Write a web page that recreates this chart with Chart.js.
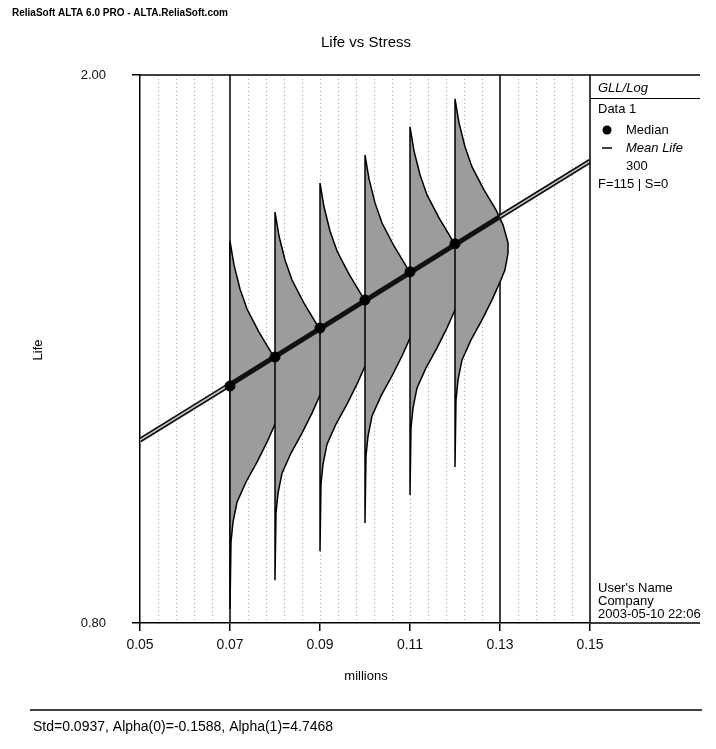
<!DOCTYPE html>
<html>
<head>
<meta charset="utf-8">
<title>Life vs Stress</title>
<script src="https://cdn.jsdelivr.net/npm/chart.js@4.4.1/dist/chart.umd.min.js"></script>
<style>
  html, body { margin: 0; padding: 0; background: #fff; }
  #wrap { position: relative; width: 716px; height: 749px; }
</style>
</head>
<body>
<div id="wrap"><canvas id="lifeChart" width="716" height="749"></canvas></div>
<script>
// stress levels (millions) and median life at each one
const stressLevels = [0.07, 0.08, 0.09, 0.10, 0.11, 0.12];
const medianLife = [1.189, 1.248, 1.310, 1.373, 1.439, 1.508];

// mean life line (read at both ends and where it crosses 0.07 / 0.13)
const meanStress = [0.05, 0.07, 0.13, 0.15];
const meanLife = [1.086, 1.192, 1.578, 1.732];

// pdf outline shared by every level: log10 offset from the median, and width in stress units
const pdfLogOffset = [0.1053, 0.0879, 0.0705, 0.0559, 0.0392, 0.0247, 0.0138, 0.0007, -0.0065,
    -0.0189, -0.0261, -0.0407, -0.0552, -0.0697, -0.0843, -0.0988, -0.1133, -0.162];
const pdfWidth = [0, 0.00089, 0.00222, 0.00378, 0.00644, 0.00911, 0.01067, 0.01178, 0.01178,
    0.01111, 0.01022, 0.00822, 0.0060, 0.00356, 0.00156, 0.00067, 0.00022, 0];

const xTicks = [0.05, 0.07, 0.09, 0.11, 0.13, 0.15];
const yTicks = [0.80, 2.00];
const solidGrid = [0.07, 0.13];
const gridStep = 0.004;

const FONT = "'Liberation Sans', Arial, sans-serif";

// one closed outline per stress level: right edge top->bottom, then back up the baseline
function pdfShape(stress, median) {
    const pts = pdfLogOffset.map((off, i) => ({ x: stress + pdfWidth[i], y: median * Math.pow(10, off) }));
    const last = pdfLogOffset.length - 1;
    pts.push({ x: stress, y: median * Math.pow(10, pdfLogOffset[last]) });
    pts.push({ x: stress, y: median * Math.pow(10, pdfLogOffset[0]) });
    return pts;
}

const datasets = [];

stressLevels.forEach((s, i) => {
    datasets.push({
        data: pdfShape(s, medianLife[i]),
        showLine: true,
        fill: 'shape',
        backgroundColor: '#9c9c9c',
        borderColor: '#000',
        borderWidth: 1.5,
        pointRadius: 0,
        tension: 0,
        order: 20 - i
    });
});

datasets.push({
    data: meanStress.map((s, i) => ({ x: s, y: meanLife[i] })),
    showLine: true,
    borderColor: '#111',
    borderWidth: 5,
    pointRadius: 0,
    order: 3
});

// light centre of the mean line outside the pdf region
[[0, 2], [2, 4]].forEach(([a, b]) => {
    datasets.push({
        data: meanStress.slice(a, b).map((s, i) => ({ x: s, y: meanLife[a + i] })),
        showLine: true,
        borderColor: '#c8c8c8',
        borderWidth: 1.5,
        pointRadius: 0,
        order: 2
    });
});

datasets.push({
    data: stressLevels.map((s, i) => ({ x: s, y: medianLife[i] })),
    showLine: false,
    pointRadius: 5,
    pointBackgroundColor: '#000',
    pointBorderColor: '#000',
    order: 0
});

const decor = {
    id: 'decor',
    beforeDatasetsDraw(chart) {
        const { ctx, chartArea: a, scales: { x } } = chart;
        ctx.save();
        ctx.strokeStyle = 'rgba(0,0,0,0.35)';
        ctx.lineWidth = 1;
        ctx.setLineDash([1, 3]);
        for (let i = 1; i * gridStep < 0.1 - 1e-9; i++) {
            const v = 0.05 + i * gridStep;
            if (solidGrid.some(g => Math.abs(g - v) < 1e-9)) continue;
            const px = Math.round(x.getPixelForValue(v)) + 0.5;
            ctx.beginPath();
            ctx.moveTo(px, a.top);
            ctx.lineTo(px, a.bottom);
            ctx.stroke();
        }
        ctx.setLineDash([]);
        ctx.strokeStyle = '#000';
        ctx.lineWidth = 1.5;
        solidGrid.forEach(v => {
            const px = x.getPixelForValue(v);
            ctx.beginPath();
            ctx.moveTo(px, a.top);
            ctx.lineTo(px, a.bottom);
            ctx.stroke();
        });
        ctx.restore();
    },
    afterDraw(chart) {
        const { ctx, chartArea: a } = chart;
        const w = chart.width;
        ctx.save();
        ctx.fillStyle = '#000';
        ctx.strokeStyle = '#000';

        ctx.font = 'bold 10px ' + FONT;
        ctx.textBaseline = 'middle';
        ctx.textAlign = 'left';
        ctx.fillText('ReliaSoft ALTA 6.0 PRO - ALTA.ReliaSoft.com', 12, 13);

        ctx.font = '15px ' + FONT;
        ctx.textAlign = 'center';
        ctx.fillText('Life vs Stress', 366, 43);

        ctx.font = '13px ' + FONT;
        ctx.fillText('millions', 366, 676);
        ctx.save();
        ctx.translate(38, 350);
        ctx.rotate(-Math.PI / 2);
        ctx.fillText('Life', 0, 0);
        ctx.restore();

        // frame: top line, legend box edges
        ctx.lineWidth = 1.5;
        ctx.beginPath();
        ctx.moveTo(a.left, a.top);
        ctx.lineTo(700, a.top);
        ctx.moveTo(a.right, a.bottom);
        ctx.lineTo(700, a.bottom);
        ctx.moveTo(a.right, a.top);
        ctx.lineTo(a.right, a.bottom);
        ctx.stroke();
        ctx.lineWidth = 1;
        ctx.beginPath();
        ctx.moveTo(a.right, 98.5);
        ctx.lineTo(700, 98.5);
        ctx.stroke();

        // legend
        const lx = a.right + 8;
        ctx.textAlign = 'left';
        ctx.font = 'italic 13px ' + FONT;
        ctx.fillText('GLL/Log', lx, 88);
        ctx.font = '13px ' + FONT;
        ctx.fillText('Data 1', lx, 109);
        ctx.beginPath();
        ctx.arc(lx + 9, 130, 4.5, 0, Math.PI * 2);
        ctx.fill();
        ctx.fillText('Median', lx + 28, 130);
        ctx.lineWidth = 1.5;
        ctx.beginPath();
        ctx.moveTo(lx + 4, 148);
        ctx.lineTo(lx + 14, 148);
        ctx.stroke();
        ctx.font = 'italic 13px ' + FONT;
        ctx.fillText('Mean Life', lx + 28, 148);
        ctx.font = '13px ' + FONT;
        ctx.fillText('300', lx + 28, 166);
        ctx.fillText('F=115 | S=0', lx, 184);

        ctx.fillText("User's Name", lx, 588);
        ctx.fillText('Company', lx, 601);
        ctx.fillText('2003-05-10 22:06', lx, 614);

        // footer
        ctx.lineWidth = 1.5;
        ctx.beginPath();
        ctx.moveTo(30, 710);
        ctx.lineTo(w - 14, 710);
        ctx.stroke();
        ctx.font = '14px ' + FONT;
        ctx.fillText('Std=0.0937, Alpha(0)=-0.1588, Alpha(1)=4.7468', 33, 727);
        ctx.restore();
    }
};

new Chart(document.getElementById('lifeChart').getContext('2d'), {
    type: 'scatter',
    data: { datasets: datasets },
    options: {
        responsive: false,
        animation: false,
        layout: { padding: { top: 75, right: 126, left: 0, bottom: 0 } },
        plugins: {
            legend: { display: false },
            tooltip: { enabled: false },
            title: { display: false }
        },
        scales: {
            x: {
                type: 'linear',
                min: 0.05,
                max: 0.15,
                afterBuildTicks: s => { s.ticks = xTicks.map(v => ({ value: v })); },
                afterFit: s => { s.height = 126; },
                grid: { drawOnChartArea: false, tickLength: 8, color: '#000', lineWidth: 1.5 },
                border: { color: '#000', width: 1.5 },
                ticks: {
                    padding: 6,
                    color: '#111',
                    autoSkip: false,
                    maxRotation: 0,
                    font: { family: FONT, size: 14 },
                    callback: v => Number(v).toFixed(2)
                }
            },
            y: {
                type: 'logarithmic',
                min: 0.8,
                max: 2.0,
                afterBuildTicks: s => { s.ticks = yTicks.map(v => ({ value: v })); },
                afterFit: s => { s.width = 140; },
                grid: { drawOnChartArea: false, tickLength: 8, color: '#000', lineWidth: 1.5 },
                border: { color: '#000', width: 1.5 },
                ticks: {
                    padding: 26,
                    color: '#111',
                    autoSkip: false,
                    font: { family: FONT, size: 13 },
                    callback: v => Number(v).toFixed(2)
                }
            }
        }
    },
    plugins: [decor]
});
</script>
</body>
</html>
